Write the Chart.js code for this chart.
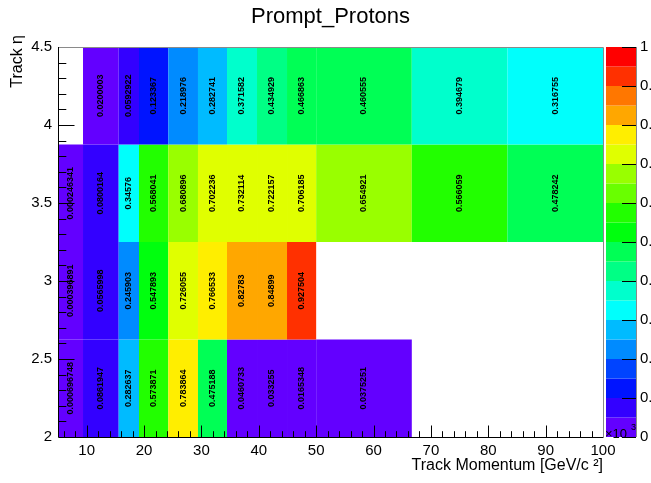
<!DOCTYPE html>
<html>
<head>
<meta charset="utf-8">
<script src="https://cdn.jsdelivr.net/npm/chart.js@4.4.0/dist/chart.umd.min.js"></script>
<style>
  html, body { margin: 0; padding: 0; background: #fff; }
</style>
</head>
<body>
<canvas id="hist" width="651" height="483"></canvas>
<script>
// bin edges
const xEdges = [5, 9.36, 15.58, 19.12, 24.23, 29.4, 34.46, 39.69, 44.92, 50, 66.67, 83.33, 100];
const yEdges = [2, 2.625, 3.25, 3.875, 4.5];

// cell contents, one array per eta row (bottom to top), null = empty bin
const etaRow1 = [0.000696748, 0.0861947, 0.282637, 0.573871, 0.783864, 0.475188, 0.0460733, 0.033255, 0.0165348, 0.0375251, null, null];
const etaRow2 = [0.000396891, 0.0565998, 0.245903, 0.547893, 0.726055, 0.766533, 0.82783, 0.84899, 0.927504, null, null, null];
const etaRow3 = [0.000246341, 0.0800164, 0.34576, 0.568041, 0.680896, 0.702236, 0.732114, 0.722157, 0.706185, 0.654921, 0.566059, 0.478242];
const etaRow4 = [null, 0.0200003, 0.0592922, 0.123367, 0.218976, 0.282741, 0.371582, 0.434929, 0.466863, 0.460555, 0.394679, 0.316755];
const rows = [etaRow1, etaRow2, etaRow3, etaRow4];

const xTicks = [10, 20, 30, 40, 50, 60, 70, 80, 90, 100];
const yTicks = [2, 2.5, 3, 3.5, 4, 4.5];
const zTicks = [0, 0.1, 0.2, 0.3, 0.4, 0.5, 0.6, 0.7, 0.8, 0.9, 1];

const FONT = "'Liberation Sans', Arial, sans-serif";
const nLevels = 20;

// ROOT style "pretty" palette, 50 colours, 20 contours
function levelColor(k) {
    const idx = Math.floor((k + 0.99) * 50 / nLevels);
    const hue = 280 - (idx + 1) * 5.6;
    return 'hsl(' + hue.toFixed(1) + ',100%,50%)';
}
function zLevel(z) {
    return Math.min(nLevels - 1, Math.floor(0.01 + z * nLevels));
}

// points at bin centres (invisible), the cells are painted by the plugin
const points = [];
rows.forEach((row, j) => {
    row.forEach((v, i) => {
        if (v === null) return;
        points.push({ x: (xEdges[i] + xEdges[i + 1]) / 2, y: (yEdges[j] + yEdges[j + 1]) / 2, v: v });
    });
});

const histPlugin = {
    id: 'th2',
    beforeDatasetsDraw(chart) {
        const ctx = chart.ctx;
        const xs = chart.scales.x, ys = chart.scales.y;
        ctx.save();
        rows.forEach((row, j) => {
            const yTop = ys.getPixelForValue(yEdges[j + 1]);
            const yBot = ys.getPixelForValue(yEdges[j]);
            row.forEach((v, i) => {
                if (v === null) return;
                const xL = xs.getPixelForValue(xEdges[i]);
                const xR = xs.getPixelForValue(xEdges[i + 1]);
                ctx.fillStyle = levelColor(zLevel(v));
                ctx.fillRect(xL, yTop, xR - xL, yBot - yTop);
            });
        });
        // bin contents as text, rotated
        ctx.fillStyle = '#000';
        ctx.font = 'bold 9px ' + FONT;
        ctx.textAlign = 'center';
        ctx.textBaseline = 'middle';
        rows.forEach((row, j) => {
            const yc = ys.getPixelForValue((yEdges[j] + yEdges[j + 1]) / 2);
            row.forEach((v, i) => {
                if (v === null) return;
                const xc = xs.getPixelForValue((xEdges[i] + xEdges[i + 1]) / 2);
                ctx.save();
                ctx.translate(xc, yc);
                ctx.rotate(-Math.PI / 2);
                ctx.fillText(String(v), 0, 0);
                ctx.restore();
            });
        });
        ctx.restore();
    },
    afterDatasetsDraw(chart) {
        const ctx = chart.ctx;
        const a = chart.chartArea;
        const xs = chart.scales.x, ys = chart.scales.y;
        ctx.save();
        // frame
        ctx.lineWidth = 1;
        ctx.strokeStyle = '#8a8a8a';
        ctx.beginPath();
        ctx.moveTo(a.left, a.top + 0.5); ctx.lineTo(a.right + 0.5, a.top + 0.5);
        ctx.lineTo(a.right + 0.5, a.bottom);
        ctx.stroke();
        ctx.strokeStyle = '#000';
        ctx.beginPath();
        ctx.moveTo(a.left + 0.5, a.top); ctx.lineTo(a.left + 0.5, a.bottom + 0.5);
        ctx.lineTo(a.right + 0.5, a.bottom + 0.5);
        ctx.stroke();
        // inward ticks, x axis
        ctx.beginPath();
        for (let v = 6; v < 100; v += 2) {
            const px = Math.round(xs.getPixelForValue(v)) + 0.5;
            const len = (v % 10 === 0) ? 11.5 : 5.8;
            ctx.moveTo(px, a.bottom); ctx.lineTo(px, a.bottom - len);
        }
        // inward ticks, y axis
        for (let n = 21; n < 45; n++) {
            const py = Math.round(ys.getPixelForValue(n / 10)) + 0.5;
            const len = (n % 5 === 0) ? 16.5 : 8.3;
            ctx.moveTo(a.left, py); ctx.lineTo(a.left + len, py);
        }
        ctx.stroke();
        // y axis title, right-adjusted near the top end
        ctx.fillStyle = '#000';
        ctx.font = '16px ' + FONT;
        ctx.textAlign = 'right';
        ctx.textBaseline = 'middle';
        ctx.translate(18, a.top - 12);
        ctx.rotate(-Math.PI / 2);
        ctx.fillText('Track \u03b7', 0, 0);
        ctx.restore();
    },
    afterDraw(chart) {
        const ctx = chart.ctx;
        const a = chart.chartArea;
        const zs = chart.scales.z;
        const bl = a.right + 3, br = a.right + 33;
        ctx.save();
        for (let k = 0; k < nLevels; k++) {
            const y0 = zs.getPixelForValue(k / nLevels);
            const y1 = zs.getPixelForValue((k + 1) / nLevels);
            ctx.fillStyle = levelColor(k);
            ctx.fillRect(bl, y1, br - bl, y0 - y1);
        }
        ctx.strokeStyle = '#8a8a8a';
        ctx.beginPath();
        ctx.moveTo(br + 0.5, a.top); ctx.lineTo(br + 0.5, a.bottom);
        ctx.stroke();
        ctx.strokeStyle = '#000';
        ctx.beginPath();
        zTicks.forEach(v => {
            const py = Math.round(zs.getPixelForValue(v)) + 0.5;
            ctx.moveTo(br, py); ctx.lineTo(br - 14, py);
        });
        ctx.stroke();
        // exponent label
        ctx.fillStyle = '#000';
        ctx.textBaseline = 'alphabetic';
        ctx.textAlign = 'left';
        ctx.font = '13px ' + FONT;
        ctx.fillText('\u00d710', bl - 1, a.bottom + 1);
        ctx.font = '9px ' + FONT;
        ctx.fillText('3', bl + 25, a.bottom - 7);
        ctx.restore();
    }
};

const ctx1 = document.getElementById('hist').getContext('2d');

const config = {
    type: 'scatter',
    data: {
        datasets: [{
            label: 'Prompt_Protons',
            data: points,
            pointRadius: 0,
            pointHoverRadius: 0
        }]
    },
    options: {
        responsive: false,
        animation: false,
        layout: { padding: 0 },
        plugins: {
            legend: { display: false },
            tooltip: { enabled: false },
            title: {
                display: true,
                text: 'Prompt_Protons',
                color: '#000',
                fullSize: false,
                font: { family: FONT, size: 22, weight: 'normal' },
                padding: { top: 4, bottom: 16.6 }
            }
        },
        scales: {
            x: {
                type: 'linear', min: 5, max: 100,
                grid: { display: false, drawTicks: false },
                border: { display: false },
                afterBuildTicks: s => { s.ticks = xTicks.map(v => ({ value: v })); },
                afterFit: s => { s.height = 45; },
                ticks: { color: '#000', font: { family: FONT, size: 15 }, padding: 5, maxRotation: 0, autoSkip: false,
                         callback: v => String(v) },
                title: {
                    display: true, text: 'Track Momentum [GeV/c \u00b2]', align: 'end', color: '#000',
                    font: { family: FONT, size: 16 }, padding: { top: 0, bottom: 7 }
                }
            },
            y: {
                type: 'linear', min: 2, max: 4.5, position: 'left',
                grid: { display: false, drawTicks: false },
                border: { display: false },
                afterBuildTicks: s => { s.ticks = yTicks.map(v => ({ value: v })); },
                afterFit: s => { s.width = 58; },
                ticks: { color: '#000', font: { family: FONT, size: 15 }, padding: 6, callback: v => String(v) }
            },
            z: {
                type: 'linear', min: 0, max: 1, position: 'right',
                grid: { display: false, drawTicks: false },
                border: { display: false },
                afterBuildTicks: s => { s.ticks = zTicks.map(v => ({ value: v })); },
                afterFit: s => { s.width = 48; },
                ticks: { color: '#000', font: { family: FONT, size: 15 }, padding: 37, callback: v => String(v) }
            }
        }
    },
    plugins: [histPlugin]
};

window.myHist = new Chart(ctx1, config);
</script>
</body>
</html>
